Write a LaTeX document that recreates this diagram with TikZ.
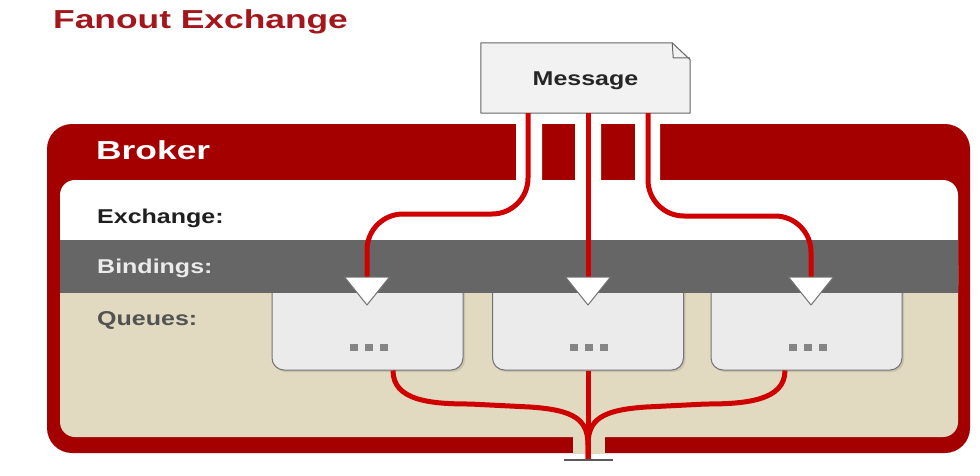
\documentclass[tikz,border=0pt]{standalone}
\usepackage{fontspec}
\setmainfont{Liberation Sans}
\usetikzlibrary{calc,shadows,backgrounds}
\definecolor{brokerred}{RGB}{165,0,0}
\definecolor{wirered}{RGB}{206,0,0}
\definecolor{titlered}{RGB}{163,22,27}
\definecolor{bandgray}{RGB}{102,102,102}
\definecolor{queuebeige}{RGB}{225,218,192}
\definecolor{boxgray}{RGB}{235,235,235}
\definecolor{msggray}{RGB}{242,242,242}
\newcommand{\wide}[2]{\scalebox{#1}[1]{#2}}
\newcommand{\qdots}{\rule{8pt}{7pt}\hspace{7pt}\rule{8pt}{7pt}\hspace{7pt}\rule{8pt}{7pt}}
\tikzset{
  wire/.style={draw=wirered, line width=5pt},
  rowlabel/.style={anchor=base west, inner sep=0, font=\fontsize{20}{24}\selectfont\bfseries},
  biglabel/.style={anchor=base west, inner sep=0, font=\fontsize{26}{30}\selectfont\bfseries},
  queuebox/.style={draw=black!55, fill=boxgray, line width=1pt, rounded corners=12pt,
    minimum width=191pt, minimum height=100pt,
    drop shadow={shadow xshift=2pt, shadow yshift=-2pt, opacity=.25}},
  binding/.style={fill=white, draw=black!55, line width=1pt, line join=round},
}

\begin{document}
\begin{tikzpicture}[x=1pt,y=-1pt]
\useasboundingbox (0,0) rectangle (980,475);

\node[biglabel, text=titlered] (title) at (53,28) {\wide{1.36}{Fanout Exchange}};

% broker frame and rows
\fill[brokerred, rounded corners=25pt] (47,124) rectangle (970,453);
\fill[white, rounded corners=15pt] (60,180) rectangle (958,300);
\fill[queuebeige, rounded corners=15pt] (60,250) rectangle (958,437);
\fill[white] (516,123) rectangle (542,180) (575,123) rectangle (601,180) (635,123) rectangle (660,180);
\fill[queuebeige] (573,436) rectangle (605,454);
\node[biglabel, text=white] (broker) at (96,159) {\wide{1.36}{Broker}};

% queues
\node[queuebox] (q1) at (367.5,320) {};
\node[queuebox] (q2) at (588,320) {};
\node[queuebox] (q3) at (806.5,320) {};
\foreach \q in {q1,q2,q3}
  \node[text=black!48, inner sep=0] (dots-\q) at ($(\q)+(1,27)$) {\qdots};

\fill[bandgray] (60,240) rectangle (958,293);

\node[rowlabel, text=black!88] (exch) at (97,223) {\wide{1.25}{Exchange:}};
\node[rowlabel, text=black!8] (bind) at (97,273) {\wide{1.25}{Bindings:}};
\node[rowlabel, text=black!68] (queues) at (97,325) {\wide{1.25}{Queues:}};

% message
\node[minimum width=209pt, minimum height=70pt, inner sep=0, text=black!85,
  font=\fontsize{20}{24}\selectfont\bfseries] (msg) at (585.5,78) {\raisebox{-7pt}[0pt][0pt]{\wide{1.25}{Message}}};
\begin{scope}[on background layer]
  \filldraw[fill=msggray, draw=black!60, line width=1pt, line join=round]
    (msg.south west) -- (msg.north west) -- ([xshift=-18pt]msg.north east)
    -- ([yshift=-17pt]msg.north east) -- (msg.south east) -- cycle;
  \draw[black!60, line width=1pt, line join=round]
    ([xshift=-18pt]msg.north east) -- ([xshift=-17pt,yshift=-15pt]msg.north east) -- ([yshift=-15pt]msg.north east);
\end{scope}

\coordinate (b1) at (367,277);
\coordinate (b2) at (588,277);
\coordinate (b3) at (811,277);
\coordinate (out) at (588,460);

% wires
\draw[wire, rounded corners=36pt] ([xshift=-57.5pt]msg.south) |- ($(b1)+(0,-63)$) -- (b1);
\draw[wire] ([xshift=2.5pt]msg.south) -- (b2);
\draw[wire, rounded corners=36pt] ([xshift=62.5pt]msg.south) |- ($(b3)+(0,-61)$) -- (b3);

\draw[wire] ([xshift=25.5pt]q1.south) .. controls +(0,30) and +(-40,0) .. (470,404)
  -- (530,407) .. controls +(45,3) and +(0,-25) .. (588,445) -- (out);
\draw[wire] (q2.south) -- (out);
\draw[wire] ([xshift=-21.5pt]q3.south) .. controls +(0,30) and +(40,0) .. (706,404)
  -- (646,407) .. controls +(-45,3) and +(0,-25) .. (588,445) -- (out);

\foreach \b in {b1,b2,b3}
  \draw[binding] ($(\b)+(-22.5,0)$) -- ($(\b)+(22.5,0)$) -- ($(\b)+(0,28)$) -- cycle;

\draw[black!65, line width=1.5pt] (564,460) -- (613,460);

\end{tikzpicture}
\end{document}
